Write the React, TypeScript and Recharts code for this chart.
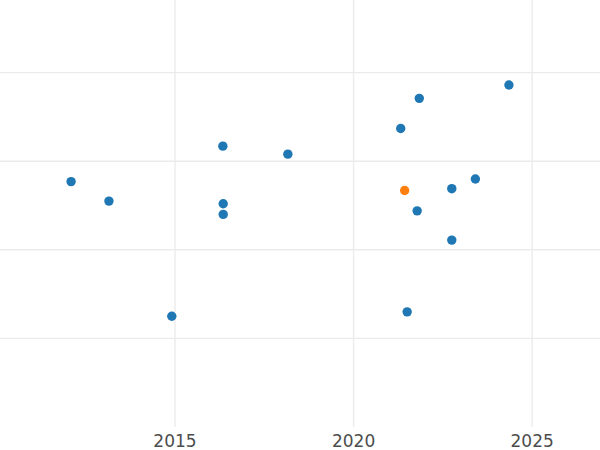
import React from 'react';
import { ScatterChart, Scatter, XAxis, YAxis, CartesianGrid } from 'recharts';

// year on x, unlabelled value on y
const blueYears = [
  2012.09, 2013.15, 2014.91, 2016.34, 2016.35, 2016.35, 2018.16, 2021.32,
  2021.84, 2024.35, 2022.75, 2023.41, 2021.78, 2022.75, 2021.5,
];
const blueValues = [
  2.77, 2.55, 1.25, 3.17, 2.52, 2.4, 3.08, 3.37,
  3.71, 3.86, 2.69, 2.8, 2.44, 2.11, 1.3,
];
const orangeYears = [2021.43];
const orangeValues = [2.67];

const xTicks = [2015, 2020, 2025];
const yGrid = [1, 2, 3, 4];

const blueData = blueYears.map((x, i) => ({ x, y: blueValues[i] }));
const orangeData = orangeYears.map((x, i) => ({ x, y: orangeValues[i] }));

const Dot = (props: any) => {
  const { cx, cy, fill } = props;
  return <circle cx={cx} cy={cy} r={4.7} fill={fill} />;
};

const App: React.FC = () => {
  return (
    <div style={{ position: 'absolute', left: 0, top: 0, background: '#fff' }}>
      <ScatterChart width={600} height={450} margin={{ top: 0, right: 0, bottom: 0, left: 0 }}>
        <CartesianGrid
          stroke="#ebebeb"
          strokeWidth={1.4}
          horizontalValues={yGrid}
          verticalValues={xTicks}
        />
        <XAxis
          type="number"
          dataKey="x"
          domain={[2010.1, 2026.9]}
          ticks={xTicks}
          allowDataOverflow
          height={23}
          tickLine={false}
          axisLine={false}
          tick={{ fill: '#4d4d4d', fontSize: 17, fontFamily: 'DejaVu Sans' }}
        />
        <YAxis type="number" dataKey="y" domain={[0, 4.82]} ticks={yGrid} hide allowDataOverflow />
        <Scatter data={blueData} fill="#1f77b4" shape={<Dot />} isAnimationActive={false} />
        <Scatter data={orangeData} fill="#ff7f0e" shape={<Dot />} isAnimationActive={false} />
      </ScatterChart>
    </div>
  );
};

export default App;
